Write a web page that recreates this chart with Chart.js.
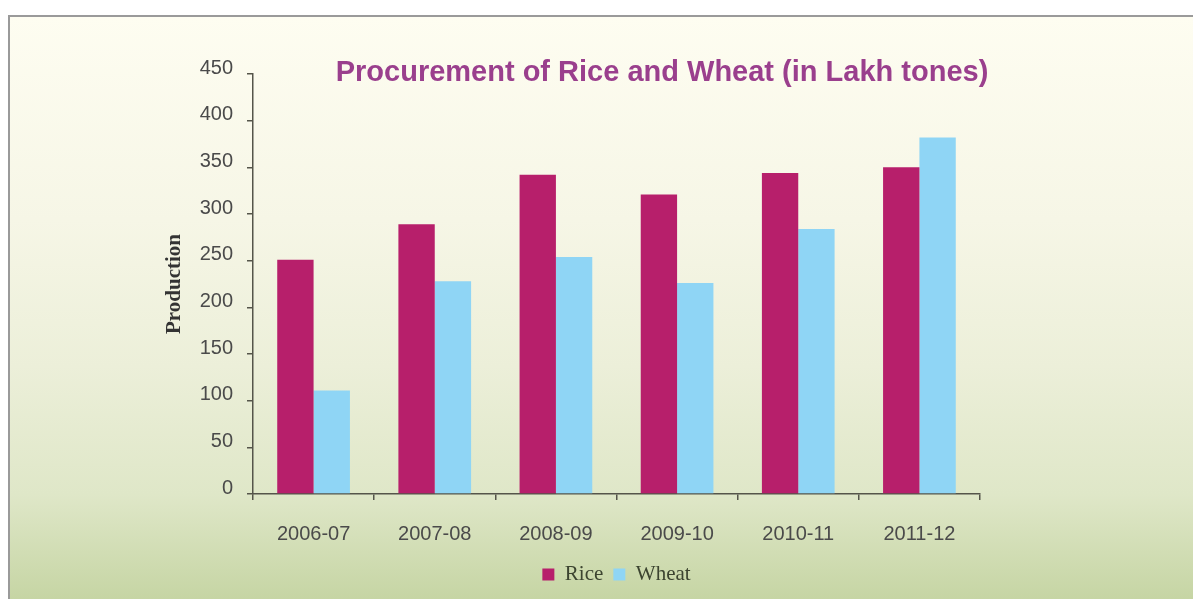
<!DOCTYPE html>
<html><head><meta charset="utf-8">
<script src="https://cdn.jsdelivr.net/npm/chart.js@4/dist/chart.umd.min.js"></script>
<style>html,body{margin:0;padding:0;background:#fff;overflow:hidden}#wrap{width:1193px;height:599px;position:relative}</style>
</head><body><div id="wrap"><canvas id="c" width="1193" height="599"></canvas></div>
<script>
const categories = ['2006-07', '2007-08', '2008-09', '2009-10', '2010-11', '2011-12'];
const riceValues = [251, 289, 342, 321, 344, 350];
const wheatValues = [111, 228, 254, 226, 284, 382];
const yTickValues = [0, 50, 100, 150, 200, 250, 300, 350, 400, 450];
const seriesNames = ['Rice', 'Wheat'];
const chartTitle = 'Procurement of Rice and Wheat (in Lakh tones)';
const yAxisTitle = 'Production';

const axisColor = '#55554a';

const backgroundPlugin = {
  id: 'bgFrame',
  beforeDraw(chart) {
    const ctx = chart.ctx;
    const W = chart.width, H = chart.height;
    ctx.save();
    ctx.fillStyle = '#ffffff';
    ctx.fillRect(0, 0, W, H);
    const g = ctx.createLinearGradient(0, 16, 0, H);
    g.addColorStop(0, '#fefdf1');
    g.addColorStop(0.35, '#f6f6e6');
    g.addColorStop(0.6, '#ecefd9');
    g.addColorStop(0.82, '#dfe7c8');
    g.addColorStop(1, '#c6d5a4');
    ctx.fillStyle = g;
    ctx.fillRect(9, 16, W - 9, H - 16);
    ctx.strokeStyle = '#9a9a9a';
    ctx.lineWidth = 2;
    ctx.beginPath();
    ctx.moveTo(9, H);
    ctx.lineTo(9, 16);
    ctx.lineTo(W, 16);
    ctx.stroke();
    ctx.restore();
  }
};

const titlePlugin = {
  id: 'customTitle',
  afterDraw(chart) {
    const ctx = chart.ctx;
    ctx.save();
    ctx.font = 'bold 29px "Liberation Sans", Arial, sans-serif';
    ctx.fillStyle = '#9a3f8d';
    ctx.textAlign = 'center';
    ctx.textBaseline = 'middle';
    ctx.fillText(chartTitle, 662, 73);
    ctx.restore();
  }
};

new Chart(document.getElementById('c'), {
  type: 'bar',
  data: {
    labels: categories,
    datasets: [
      { label: seriesNames[0], data: riceValues, backgroundColor: '#b71f6b', borderWidth: 0 },
      { label: seriesNames[1], data: wheatValues, backgroundColor: '#8fd5f5', borderWidth: 0 }
    ]
  },
  options: {
    responsive: false,
    animation: false,
    devicePixelRatio: 1,
    layout: { padding: { left: 0, right: 213, top: 74, bottom: 4 } },
    datasets: { bar: { categoryPercentage: 0.6, barPercentage: 1.0 } },
    plugins: {
      title: { display: false },
      tooltip: { enabled: false },
      legend: {
        display: true,
        position: 'bottom',
        fullSize: false,
        labels: {
          boxWidth: 12,
          boxHeight: 12,
          padding: 10,
          color: '#3c4430',
          font: { family: '"Liberation Serif", "Times New Roman", serif', size: 21 }
        }
      }
    },
    scales: {
      x: {
        grid: { drawOnChartArea: false, drawTicks: true, tickLength: 6, color: axisColor, lineWidth: 1.5, offset: true },
        border: { display: true, color: axisColor, width: 1.5 },
        ticks: { color: '#4a4a4a', padding: 22, maxRotation: 0, font: { family: '"Liberation Sans", Arial, sans-serif', size: 20 } },
        afterFit(scale) { scale.height = 60; }
      },
      y: {
        min: 0,
        max: 450,
        afterBuildTicks(scale) { scale.ticks = yTickValues.map(v => ({ value: v })); },
        grid: { drawOnChartArea: false, drawTicks: true, tickLength: 6, color: axisColor, lineWidth: 1.5 },
        border: { display: true, color: axisColor, width: 1.5 },
        ticks: { color: '#4a4a4a', padding: 14, labelOffset: -6, font: { family: '"Liberation Sans", Arial, sans-serif', size: 20 } },
        title: {
          display: true,
          text: yAxisTitle,
          color: '#333333',
          padding: { top: 162, bottom: 0 },
          font: { family: '"Liberation Serif", "Times New Roman", serif', size: 21, weight: 'bold' }
        },
        afterFit(scale) { scale.width = 253; }
      }
    }
  },
  plugins: [backgroundPlugin, titlePlugin]
});
</script>
</body></html>
